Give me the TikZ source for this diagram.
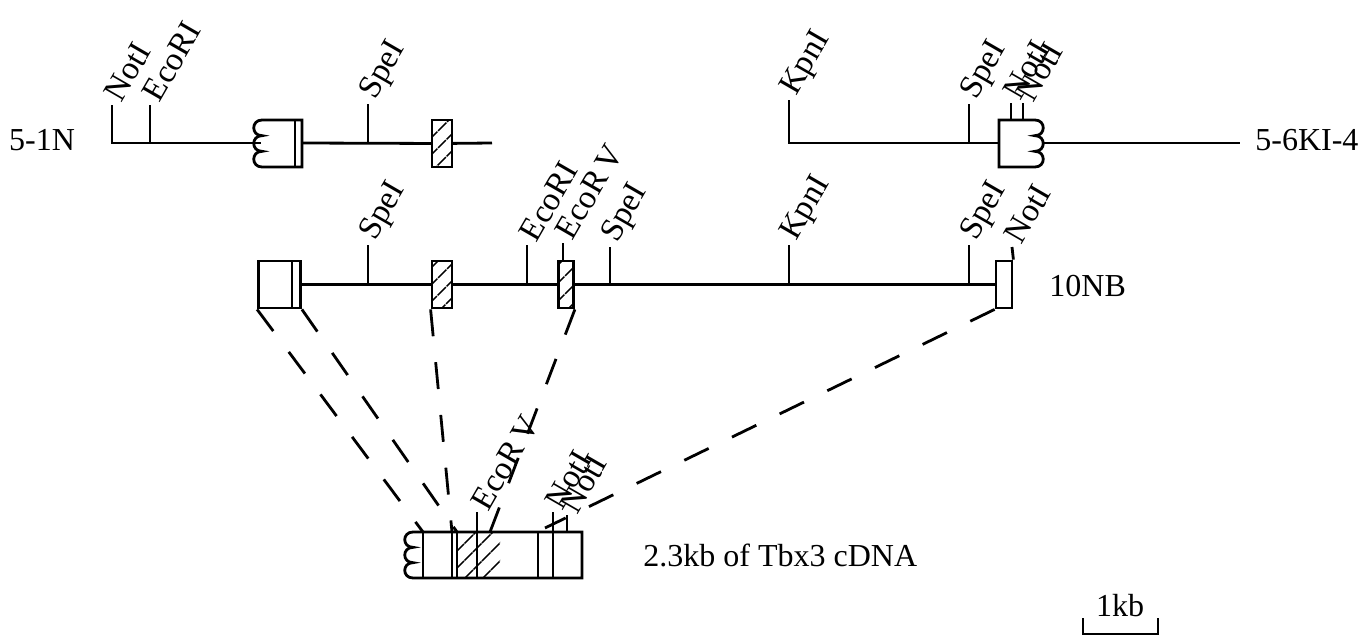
\documentclass[tikz,border=0pt]{standalone}
\usepackage{fontspec}
\setmainfont{Liberation Serif}
\usetikzlibrary{positioning,patterns.meta}

\begin{document}
\begin{tikzpicture}[x=0.5pt, y=-0.5pt, line width=1.4pt,
    clone/.style={font=\fontsize{16}{18}\selectfont, anchor=base, inner sep=0pt},
    site/.style={font=\fontsize{16.5}{18}\selectfont, rotate=60, anchor=west, inner sep=1pt},
    exon/.style={draw, rectangle, inner sep=0pt, minimum height=23.5pt},
    hatched/.style={exon, pattern={Lines[angle=45, distance=6.5pt, line width=0.9pt]}},
    link/.style={dash pattern=on 13.5pt off 13pt}
]
    \useasboundingbox (0,0) rectangle (1361,637);

    % clone 5-1N
    \node[clone] (c51n) at (42,150) {5-1N};
    \draw (112,105) -- (112,143) -- (261,143);
    \draw (150,105) -- (150,143);
    \draw (262,120) -- (302,120) -- (302,167) -- (262,167)
        .. controls (251,167) and (251,151.33) .. (262,151.33)
        .. controls (251,151.33) and (251,135.67) .. (262,135.67)
        .. controls (251,135.67) and (251,120) .. (262,120);
    \draw (295,120) -- (295,167);
    \node[hatched, minimum width=10pt] (h51) at (442,143.5) {};
    \draw (302,143) -- (h51);
    \draw (h51) -- (492,143);
    \draw (368,104) -- (368,143);
    \node[site] (s1) at (111,101) {NotI};
    \node[site] (s2) at (149,101) {EcoRI};
    \node[site] (s3) at (367,100) {SpeI};

    % clone 5-6KI-4
    \draw (789,100) -- (789,143) -- (999,143);
    \draw (969,104) -- (969,143);
    \draw (1035,120) -- (999,120) -- (999,167) -- (1035,167)
        .. controls (1046,167) and (1046,151.33) .. (1035,151.33)
        .. controls (1046,151.33) and (1046,135.67) .. (1035,135.67)
        .. controls (1046,135.67) and (1046,120) .. (1035,120);
    \draw (1043,143) -- (1240,143);
    \draw (1011,103) -- (1011,120);
    \draw (1023,103) -- (1023,120);
    \node[site] (s4) at (788,96) {KpnI};
    \node[site] (s5) at (968,100) {SpeI};
    \node[site] (s6) at (1010,99) {NotI};
    \node[site] (s7) at (1023,101) {NotI};
    \node[clone, anchor=base west] (c56) at (1254,150) {5-6KI-4};

    % clone 10NB
    \node[exon, minimum width=21pt] (e1) at (279.5,284.5) {};
    \draw (292,261) -- (292,308);
    \node[hatched, minimum width=10pt] (e2) at (442,284.5) {};
    \node[hatched, minimum width=7.5pt] (e3) at (566,284.5) {};
    \node[exon, minimum width=8pt] (e4) at (1004,284.5) {};
    \draw (e1) -- (e2);
    \draw (e2) -- (e3);
    \draw (e3) -- (e4);
    \draw (368,245) -- (368,284.5);
    \draw (527,245) -- (527,284.5);
    \draw (563,243) -- (e3.north -| 563,0);
    \draw (610,247) -- (610,284.5);
    \draw (789,245) -- (789,284.5);
    \draw (969,245) -- (969,284.5);
    \draw (e4.north east) -- (1012,247);
    \node[site] (s8) at (367,241) {SpeI};
    \node[site] (s9) at (526,241) {EcoRI};
    \node[site] (s10) at (562,239) {EcoR\,V};
    \node[site] (s11) at (609,243) {SpeI};
    \node[site] (s12) at (788,241) {KpnI};
    \node[site] (s13) at (968,241) {SpeI};
    \node[site] (s14) at (1011,243) {NotI};
    \node[clone, anchor=base west] (c10) at (1048,296) {10NB};

    % cDNA
    \path[pattern={Lines[angle=45, distance=6.5pt, line width=0.9pt]}] (457,532) rectangle (500,578);
    \draw (413,532) -- (582,532) -- (582,578) -- (413,578)
        .. controls (402,578) and (402,562.67) .. (413,562.67)
        .. controls (402,562.67) and (402,547.33) .. (413,547.33)
        .. controls (402,547.33) and (402,532) .. (413,532);
    \draw (423,532) -- (423,578);
    \draw (452,532) -- (452,578);
    \draw (457,532) -- (457,578);
    \draw (477,512) -- (477,578);
    \draw (538,532) -- (538,578);
    \draw (553,512) -- (553,578);
    \draw (567,515) -- (567,532);
    \coordinate (d1) at (423,532);
    \coordinate (d2) at (457,532);
    \coordinate (d3) at (452,532);
    \coordinate (d4) at (490,532);
    \coordinate (d5) at (545,528);
    \node[site] (s15) at (478,510) {EcoR\,V};
    \node[site] (s16) at (552,509) {NotI};
    \node[site] (s17) at (567,513) {NotI};
    \node[clone, anchor=base west] (cdna) at (642,566) {2.3kb of Tbx3 cDNA};

    % dashed links
    \draw[link] (e1.south west) -- (d1);
    \draw[link] (e1.south east) -- (d2);
    \draw[link] (e2.south west) -- (d3);
    \draw[link] (e3.south east) -- (d4);
    \draw[link] (e4.south west) -- (d5);

    % scale
    \draw (1083,618) -- (1083,634) -- (1158,634) -- (1158,618);
    \node[clone] (kb) at (1120,616) {1kb};
\end{tikzpicture}
\end{document}
